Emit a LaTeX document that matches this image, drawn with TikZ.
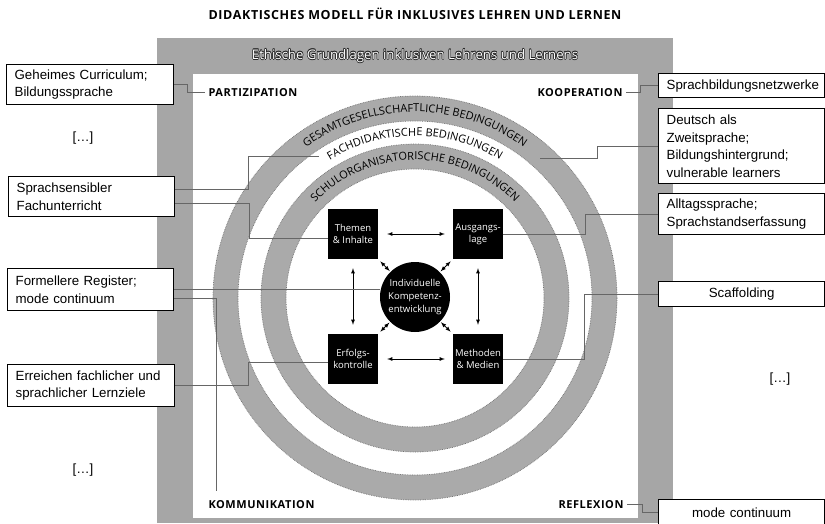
\documentclass[tikz,border=0pt]{standalone}
\usepackage{fontspec}
\setmainfont{Liberation Sans}
\newfontfamily\diafont{Open Sans}
\newfontfamily\diaspaced[LetterSpace=5]{Open Sans}
\usetikzlibrary{decorations.text}
\definecolor{framegray}{HTML}{A6A6A6}
\definecolor{ringgray}{HTML}{AAAAAA}
\newcommand{\ringfont}{\diafont\fontsize{11}{11}\selectfont}
\tikzset{
  notebox/.style={draw, line width=1.3pt, fill=white, anchor=north west, align=left,
    inner xsep=8pt, inner ysep=0pt, font=\fontsize{13.3}{17.5}\selectfont},
  leader/.style={draw=black!60, line width=0.6pt},
  corner/.style={font=\diaspaced\bfseries\fontsize{11}{12}\selectfont},
  topic/.style={fill=black, text=white, minimum size=50pt, inner sep=0pt, align=center,
    font=\diafont\fontsize{9.5}{12.5}\selectfont},
  dots/.style={font=\fontsize{13.3}{16}\selectfont},
  ringedge/.style={draw=black!55, densely dotted, line width=0.7pt},
  ringtext/.style={decorate, decoration={text along path, text align=center, text={|\ringfont|#1}}},
  ethfont/.style={font=\diafont\fontsize{13.2}{15}\selectfont}
}
\begin{document}
\begin{tikzpicture}[x=1pt, y=-1pt, >=latex]
\useasboundingbox (0,0) rectangle (825,523);
\node[font=\diaspaced\bfseries\fontsize{12.5}{14}\selectfont] (titel) at (415,14) {DIDAKTISCHES MODELL FÜR INKLUSIVES LEHREN UND LERNEN};
\fill[framegray] (157,38) rectangle (673,523);
\fill[white] (193,74) rectangle (638,518);
\foreach \dx/\dy [count=\i] in {0.6/0, -0.6/0, 0/0.6, 0/-0.6, 0.45/0.45, -0.45/0.45, 0.45/-0.45, -0.45/-0.45}
  \node[ethfont, text=black!85] (ethschatten\i) at ([shift={(\dx pt,\dy pt)}]415,56) {Ethische Grundlagen inklusiven Lehrens und Lernens};
\node[ethfont, text=white] (ethik) at (415,56) {Ethische Grundlagen inklusiven Lehrens und Lernens};

\node[corner, anchor=base west] (partiz) at (205,96) {PARTIZIPATION};
\node[corner, anchor=base east] (koop) at (626,96) {KOOPERATION};
\node[corner, anchor=base west] (kommu) at (205,508) {KOMMUNIKATION};
\node[corner, anchor=base east] (refl) at (627,508) {REFLEXION};

\begin{scope}[shift={(415,298)}, y=1pt]
  \fill[ringgray, even odd rule] (0,0) circle (202pt) (0,0) circle (177pt);
  \fill[ringgray, even odd rule] (0,0) circle (154pt) (0,0) circle (129pt);
  \foreach \r in {202,177,154,129}
    \draw[ringedge] (0,0) circle (\r pt);
  \path[ringtext={GESAMTGESELLSCHAFTLICHE BEDINGUNGEN}] (160:186pt) arc[start angle=160, end angle=20, radius=186pt];
  \path[ringtext={FACHDIDAKTISCHE BEDINGUNGEN}] (160:162pt) arc[start angle=160, end angle=20, radius=162pt];
  \path[ringtext={SCHULORGANISATORISCHE BEDINGUNGEN}] (160:138pt) arc[start angle=160, end angle=20, radius=138pt];
\end{scope}

\node[topic] (themen) at (353,234) {Themen\\\& Inhalte};
\node[topic] (ausgang) at (478,234) {Ausgangs-\\lage};
\node[topic] (erfolg) at (353,359) {Erfolgs-\\kontrolle};
\node[topic] (methoden) at (478,359) {Methoden\\\& Medien};
\node[circle, fill=black, text=white, minimum size=70pt, inner sep=0pt, align=center,
  font=\diafont\fontsize{9.5}{13}\selectfont] (kern) at (415,297) {Individuelle\\Kompetenz-\\entwicklung};

\draw[<->, line width=0.8pt, shorten <=9pt, shorten >=8pt] (themen) -- (ausgang);
\draw[<->, line width=0.8pt, shorten <=9pt, shorten >=8pt] (erfolg) -- (methoden);
\draw[<->, line width=0.8pt, shorten <=9pt, shorten >=9pt] (themen) -- (erfolg);
\draw[<->, line width=0.8pt, shorten <=9pt, shorten >=9pt] (ausgang) -- (methoden);
\draw[<->, line width=0.8pt, shorten <=3pt, shorten >=1pt] (themen.south east) -- (kern);
\draw[<->, line width=0.8pt, shorten <=3pt, shorten >=1pt] (ausgang.south west) -- (kern);
\draw[<->, line width=0.8pt, shorten <=3pt, shorten >=1pt] (erfolg.north east) -- (kern);
\draw[<->, line width=0.8pt, shorten <=3pt, shorten >=1pt] (methoden.north west) -- (kern);

\node[notebox, text width=151pt, minimum height=40pt] (geheim) at (6,64) {Geheimes Curriculum;\\Bildungssprache};
\node[dots] (punktea) at (83,138) {[…]};
\node[notebox, text width=150pt, minimum height=40pt] (sprach) at (8,176) {Sprachsensibler\\Fachunterricht};
\node[notebox, text width=150pt, minimum height=42pt] (formell) at (7,268) {Formellere Register;\\mode continuum};
\node[notebox, text width=151pt, minimum height=42pt] (erreich) at (7,364) {Erreichen fachlicher und\\sprachlicher Lernziele};
\node[dots] (punkteb) at (83,470) {[…]};

\node[notebox, text width=150pt, minimum height=24pt] (netz) at (658,73) {Sprachbildungsnetzwerke};
\node[notebox, text width=150pt, minimum height=75pt] (deutsch) at (658,108) {Deutsch als\\Zweitsprache;\\Bildungshintergrund;\\vulnerable learners};
\node[notebox, text width=150pt, minimum height=41pt] (alltag) at (658,193) {Alltagssprache;\\Sprachstandserfassung};
\node[notebox, text width=150pt, minimum height=25pt, align=center] (scaff) at (658,281) {Scaffolding};
\node[dots] (punktec) at (780,379) {[…]};
\node[notebox, text width=150pt, minimum height=26pt, align=center] (modec) at (658,499) {mode continuum};

\coordinate (fachende) at (319,156);
\coordinate (gesende) at (540,158);
\coordinate (kommoben) at (216,491);

\draw[leader] (geheim.east) -- ++(13,0) |- (partiz.west);
\draw[leader] (koop.east) -- ++(14,0) |- (netz.west);
\draw[leader] (refl.east) -- ++(15,0) |- (modec.west);
\draw[leader] ([yshift=7pt]sprach.east) -- ++(73,0) |- (fachende);
\draw[leader] ([yshift=-7pt]sprach.east) -- ++(74,0) |- ([yshift=-4pt]themen.west);
\draw[leader] (formell.east) -- (formell.east -| kern.west);
\draw[leader] ([yshift=-9pt]formell.east) -| (kommoben);
\draw[leader] (erreich.east) -- ++(73,0) |- ([yshift=-3pt]erfolg.west);
\draw[leader] (deutsch.west) -- ++(-61,0) |- (gesende);
\draw[leader] (alltag.west) -- ++(-73,0) |- (ausgang.east);
\draw[leader] (scaff.west) -- ++(-74,0) |- (methoden.east);
\end{tikzpicture}
\end{document}
